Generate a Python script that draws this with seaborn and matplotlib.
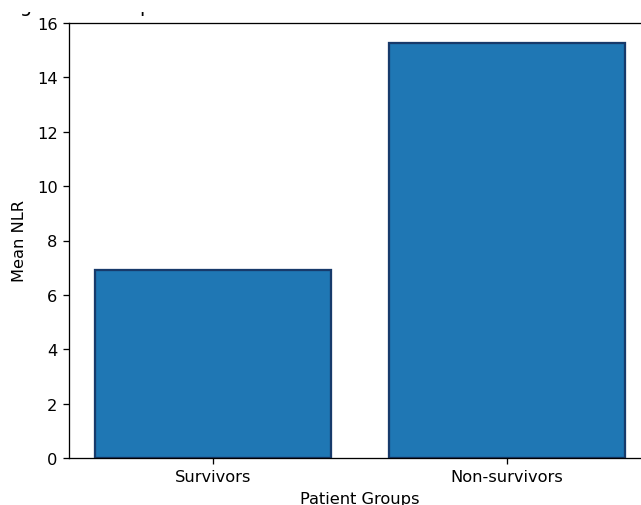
import matplotlib
matplotlib.use("Agg")
import matplotlib.pyplot as plt
from matplotlib.patches import Rectangle
import seaborn as sns
import pandas as pd

groups = ["Survivors", "Non-survivors"]
mean_nlr = [6.9, 15.27]

df = pd.DataFrame({"Patient Groups": groups, "Mean NLR": mean_nlr})

W, H, DPI = 641, 506, 117
fig = plt.figure(figsize=(W / DPI, H / DPI), dpi=DPI)
ax = fig.add_axes([69 / W, 47 / H, 582 / W, 435 / H])

sns.barplot(data=df, x="Patient Groups", y="Mean NLR", ax=ax,
            color="#1f77b4", saturation=1, width=0.8,
            edgecolor="#173a6b", linewidth=1.4, errorbar=None)

ax.set_xlim(-0.49, 1.49)
ax.set_ylim(0, 16.0)
ax.set_yticks(range(0, 17, 2))
ax.set_ylabel("Mean NLR", labelpad=6)

ax.set_title("Average NLR Comparison Between Survivors and Non-survivors",
             fontsize=12, loc="left", x=-0.181, pad=7.5)

# white header strip laid over the upper part of the title line
band_h = 12.5 / H
band = fig.add_axes([0, 1 - band_h, 1, band_h], zorder=5)
band.axis("off")
band.add_patch(Rectangle((0, 0), 1, 1, transform=band.transAxes,
                         facecolor="white", edgecolor="none", clip_on=False))

fig.savefig("out.png", dpi=DPI)
